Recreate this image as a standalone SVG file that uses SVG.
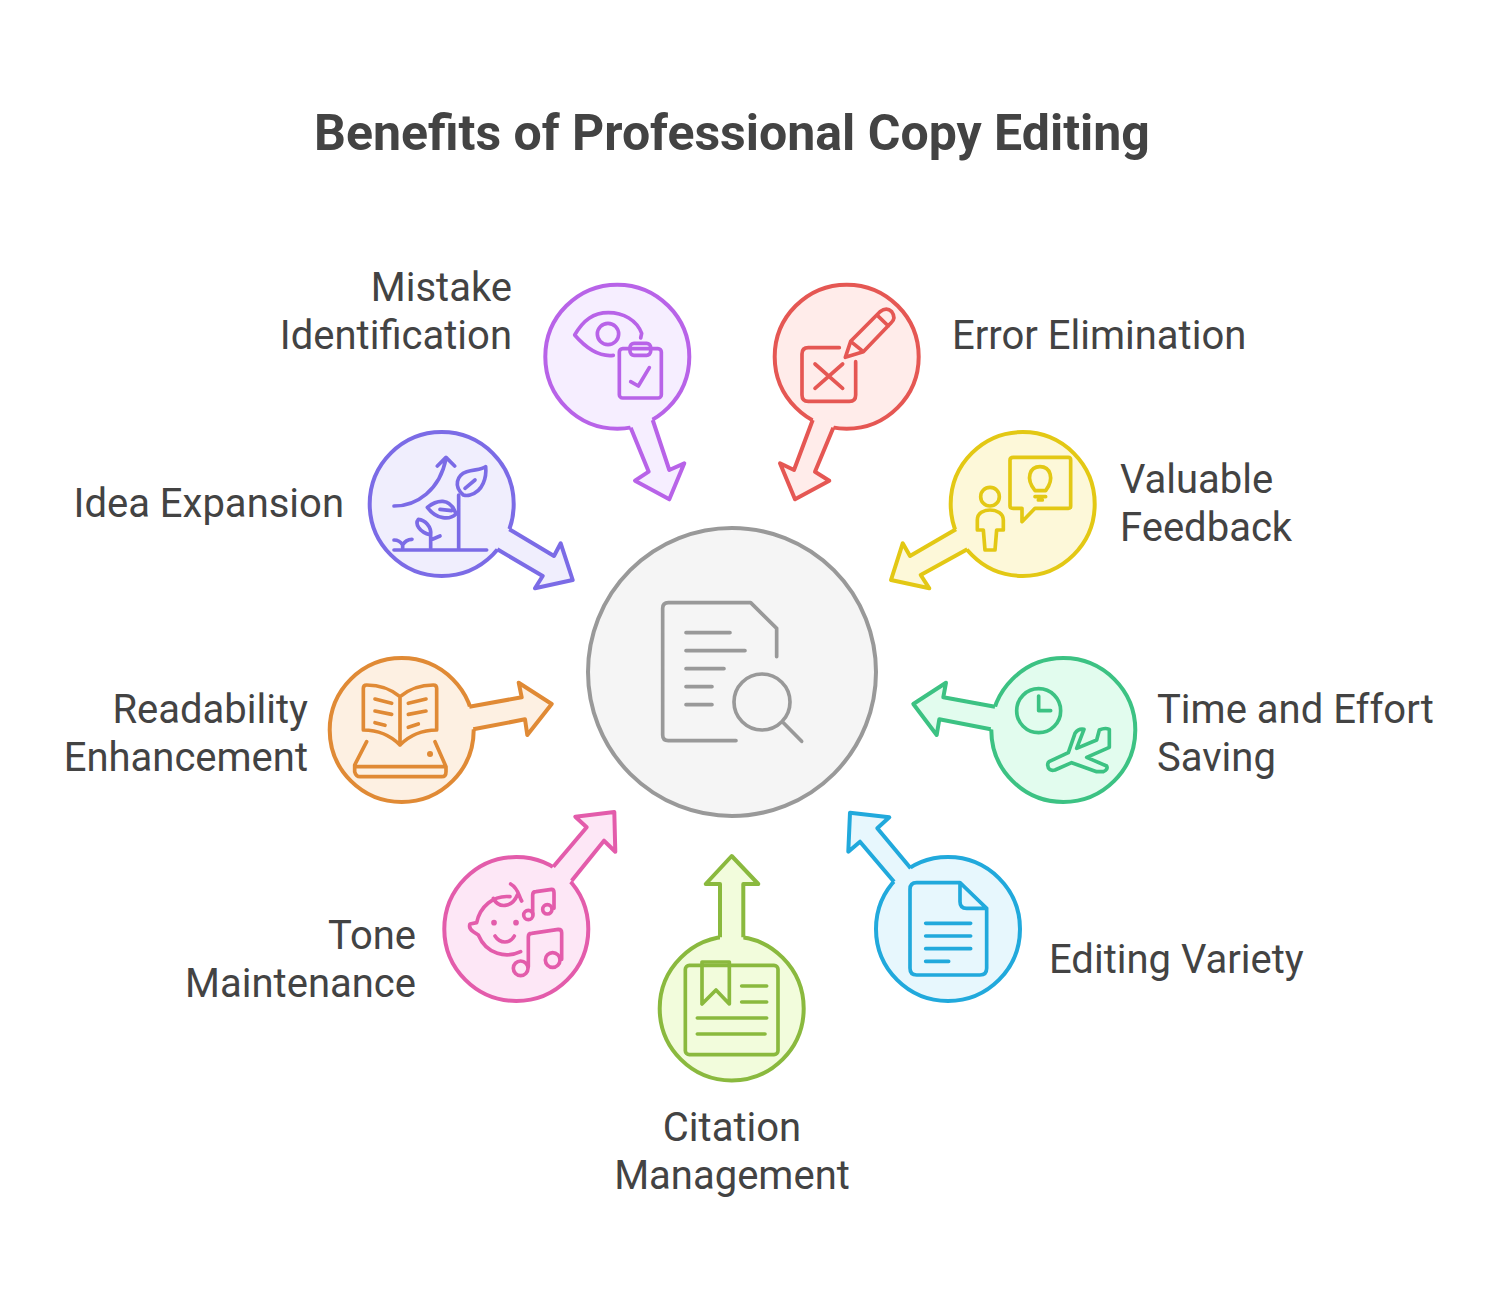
<svg xmlns="http://www.w3.org/2000/svg" width="1512" height="1296" viewBox="0 0 1512 1296">
<style>
.purple{stroke:#b863e8;fill:#f6eeff}.purple .ic{stroke:#b863e8}
.red{stroke:#e55753;fill:#ffecea}.red .ic{stroke:#e55753}
.indigo{stroke:#7b6be6;fill:#f0eefd}.indigo .ic{stroke:#7b6be6}
.yellow{stroke:#e3c814;fill:#fdf8d9}.yellow .ic{stroke:#e3c814}
.orange{stroke:#e08a35;fill:#fdf0e2}.orange .ic{stroke:#e08a35}
.green{stroke:#3cc283;fill:#e2fcee}.green .ic{stroke:#3cc283}
.pink{stroke:#e35cab;fill:#fde7f6}.pink .ic{stroke:#e35cab}
.lime{stroke:#8ab93e;fill:#f2fcdc}.lime .ic{stroke:#8ab93e}
.blue{stroke:#21a9dc;fill:#e7f7fd}.blue .ic{stroke:#21a9dc}
.gray{stroke:#999;fill:#f5f5f5}.gray .ic{stroke:#999}
text{font-family:Roboto,"Liberation Sans",sans-serif;fill:#434343;stroke:none;font-size:40px}
.title{font-size:50px;font-weight:700;text-anchor:middle}
.e{text-anchor:end}.m{text-anchor:middle}
circle.n,.as{stroke-width:4;stroke-linejoin:round}
.af{stroke:none}.as{fill:none}
.ic{fill:none;stroke-width:11;stroke-linecap:round;stroke-linejoin:round}
</style>
<text class="title" x="732" y="150">Benefits of Professional Copy Editing</text>

<g id="node-center" class="gray">
<circle class="n" cx="732" cy="672" r="144"/>
<g class="ic" transform="translate(580,520) scale(.33333)">
<path d="M468,662H265Q248,662 248,645V265Q248,248 265,248H512L590,325V410M318,338H450M318,392H495M318,446H432M318,500H396M318,554H396"/>
<circle cx="546" cy="546" r="84"/><path d="M610,608L665,664"/>
</g></g>

<g id="node-mistake" class="purple">
<circle class="n" cx="617.3" cy="356.7" r="72"/>
<g class="ic" transform="translate(530,270) scale(.33333)">
<path d="M250,256C200,262 160,225 134,195C160,150 190,128 235,128C280,128 320,150 335,190L332,204"/>
<circle cx="234" cy="192" r="32"/>
<rect x="268" y="236" width="126" height="148" rx="10"/>
<rect x="300" y="220" width="62" height="36" rx="12"/>
<path d="M302,335L325,348L358,293"/>
</g>
<text class="e" x="512" y="301">Mistake</text><text class="e" x="512" y="349">Identification</text>
</g>

<g id="node-error" class="red">
<circle class="n" cx="846.7" cy="356.7" r="72"/>
<g class="ic" transform="translate(530,270) scale(.33333)">
<path d="M928,233H835Q816,233 816,252V375Q816,394 835,394H958Q977,394 977,375V275M855,282L938,355M938,282L855,355"/>
<path d="M946,262L962,214L1050,125Q1070,110 1085,125Q1100,145 1082,160L1000,245ZM962,214L1000,245M1042,136L1075,168"/>
</g>
<text x="952" y="349">Error Elimination</text>
</g>

<g id="node-idea" class="indigo">
<circle class="n" cx="441.7" cy="504" r="72"/>
<g class="ic" transform="translate(350,420) scale(.33333)">
<path d="M132,258C200,258 270,210 288,115M262,138L288,112L314,138M132,390H410M326,390V225"/>
<path d="M340,225C310,200 320,165 350,155C375,148 395,150 407,140C410,170 400,215 360,225Q350,228 340,225ZM345,205L375,180"/>
<path d="M318,282C300,300 260,300 232,262C260,240 300,230 318,282ZM270,268L305,272"/>
<path d="M242,385V345M242,345C205,335 195,310 205,298C225,300 245,320 242,345ZM242,360L270,348M158,385V375C150,362 140,360 132,360M158,375C165,362 175,358 186,358"/>
</g>
<text class="e" x="344" y="517">Idea Expansion</text>
</g>

<g id="node-feedback" class="yellow">
<circle class="n" cx="1022.7" cy="504" r="72"/>
<g class="ic" transform="translate(880,420) scale(.33333)">
<path d="M400,112H565Q572,112 572,120V258Q572,265 565,265H465L426,305V265H400Q390,265 390,258V120Q390,112 400,112Z"/>
<path d="M465,212C435,175 450,140 480,140C510,140 525,175 497,212ZM465,230H497M475,240H487"/>
<circle cx="330" cy="230" r="28"/>
<path d="M315,390L310,330H292V300C292,278 312,270 330,270C350,270 370,280 370,300V330H350L345,390Z"/>
</g>
<text x="1120" y="493">Valuable</text><text x="1120" y="541">Feedback</text>
</g>

<g id="node-readability" class="orange">
<circle class="n" cx="401.7" cy="730" r="72"/>
<g class="ic" transform="translate(320,650) scale(.33333)">
<path d="M240,140C210,115 170,105 140,105Q130,105 130,115V240C170,240 210,255 240,285C270,255 310,240 350,240V115Q350,105 340,105C310,105 270,115 240,140V285"/>
<path d="M165,147L215,160M165,183L215,193M165,218L195,226M265,160L318,147M265,193L318,183M265,232L295,222"/>
<path d="M140,275L104,345V365Q108,380 120,380H365Q378,380 378,365V350L345,275M104,350H378"/>
<path d="M330,312h.1" stroke-width="18"/>
</g>
<text class="e" x="308" y="723">Readability</text><text class="e" x="308" y="771">Enhancement</text>
</g>

<g id="node-time" class="green">
<circle class="n" cx="1063.3" cy="730" r="72"/>
<g class="ic" transform="translate(900,650) scale(.33333)">
<circle cx="416" cy="182" r="66"/><path d="M416,138V182H452"/>
<path d="M447,335L505,308L525,250Q535,235 552,238L530,295L590,270L598,240Q615,232 628,238V292L560,322L620,348Q625,358 610,365H590L515,338L465,360Q445,365 443,345Q443,338 447,335Z"/>
</g>
<text x="1157" y="723">Time and Effort</text><text x="1157" y="771">Saving</text>
</g>

<g id="node-tone" class="pink">
<circle class="n" cx="516.3" cy="929" r="72"/>
<g class="ic" transform="translate(430,800) scale(.33333)">
<path d="M272,455C230,475 170,465 145,405L130,395Q115,385 120,372L140,368C150,320 190,285 240,290M242,252C265,265 265,285 275,303M190,295C205,325 245,325 262,285M195,408C210,432 240,432 253,408"/>
<path d="M192,368h.1M258,368h.1" stroke-width="17"/>
<circle cx="295" cy="345" r="14"/><circle cx="352" cy="328" r="14"/>
<path d="M308,340V285Q308,275 318,275L365,268Q372,268 372,278V325"/>
<circle cx="272" cy="505" r="22"/><circle cx="368" cy="480" r="22"/>
<path d="M295,500V410Q295,400 305,400L385,388Q395,388 395,398V478"/>
</g>
<text class="e" x="416" y="949">Tone</text><text class="e" x="416" y="997">Maintenance</text>
</g>

<g id="node-citation" class="lime">
<circle class="n" cx="731.7" cy="1008.5" r="72"/>
<g class="ic" transform="translate(640,850) scale(.33333)">
<rect x="136" y="346" width="278" height="268" rx="12"/>
<path d="M186,336H268V462L228,420L186,462ZM305,408H380M305,456H380M172,504H380M172,552H375"/>
</g>
<text class="m" x="732" y="1141">Citation</text><text class="m" x="732" y="1189">Management</text>
</g>

<g id="node-editing" class="blue">
<circle class="n" cx="948" cy="929" r="72"/>
<g class="ic" transform="translate(840,800) scale(.33333)">
<path d="M360,248H230Q210,248 210,268V505Q210,525 230,525H420Q440,525 440,505V325ZM360,248V305Q360,325 380,325H440M257,370H392M257,408H392M257,446H392M257,484H326"/>
</g>
<text x="1049" y="973">Editing Variety</text>
</g>

<g id="connectors">
<path class="af purple" d="M628.5,422L648.7,471.7L635,480.7L669.3,499.3L684.3,463.3L669.3,470L650.5,414.4Z"/>
<path class="as purple" d="M630.7,427.7L648.7,471.7L635,480.7L669.3,499.3L684.3,463.3L669.3,470L652.7,420"/>
<path class="af red" d="M814.9,414.4L794,470L780,463.3L795,499.3L829.3,480.7L815,471.7L835.5,422Z"/>
<path class="as red" d="M812.7,420L794,470L780,463.3L795,499.3L829.3,480.7L815,471.7L833.3,427.7"/>
<path class="af indigo" d="M504.2,526.2L554,556L560.7,543.3L572.7,580L535,588.3L542.7,576L492.2,546.2Z"/>
<path class="as indigo" d="M509.3,529.3L554,556L560.7,543.3L572.7,580L535,588.3L542.7,576L497.3,549.3"/>
<path class="af yellow" d="M961,526.3L910,556L902.7,543.3L891,580L929.3,588.3L920.7,575L972.3,546.3Z"/>
<path class="as yellow" d="M956,529.3L910,556L902.7,543.3L891,580L929.3,588.3L920.7,575L967.3,549.3"/>
<path class="af orange" d="M463.4,707.7L521.7,697.3L518.7,682.7L551.7,704L527.3,735L525,719.3L467.4,730.3Z"/>
<path class="as orange" d="M469.3,706.7L521.7,697.3L518.7,682.7L551.7,704L527.3,735L525,719.3L473.3,729.3"/>
<path class="af green" d="M1000.9,707.7L943.3,697.3L946,682.7L913.3,704L936.7,735L939.3,719.3L996.6,730.3Z"/>
<path class="as green" d="M995,706.7L943.3,697.3L946,682.7L913.3,704L936.7,735L939.3,719.3L990.7,729.3"/>
<path class="af pink" d="M549.3,871.2L586.7,827.3L575.3,816.7L614.3,812L615.3,851.7L604,840.7L567.7,885.2Z"/>
<path class="as pink" d="M553.3,866.7L586.7,827.3L575.3,816.7L614.3,812L615.3,851.7L604,840.7L571.7,880.7"/>
<path class="af lime" d="M720,943.3V884H705.7L731.7,856L758.3,884H743.3V943.3Z"/>
<path class="as lime" d="M720,937.3V884H705.7L731.7,856L758.3,884H743.3V937.3"/>
<path class="af blue" d="M914.7,872.8L877.3,828.3L889.3,817.3L850,812.7L848.3,851.7L860,841.7L898,886.2Z"/>
<path class="as blue" d="M910.7,868.3L877.3,828.3L889.3,817.3L850,812.7L848.3,851.7L860,841.7L894,881.7"/>
</g>
</svg>
